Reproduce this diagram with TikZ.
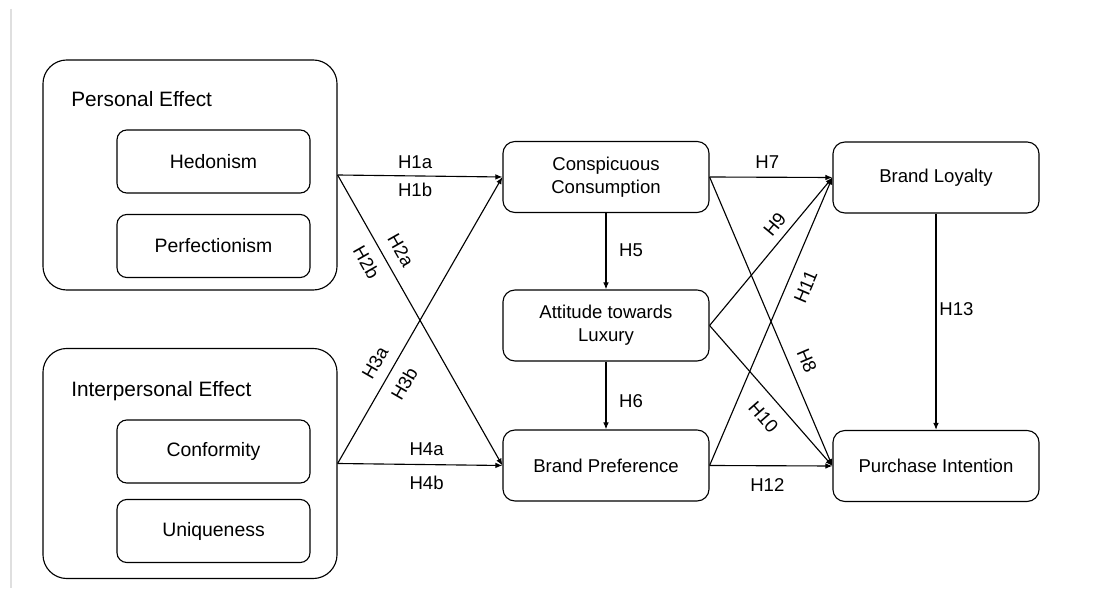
\documentclass[tikz,border=0pt]{standalone}
\usepackage{fontspec}
\setmainfont{Liberation Sans}
\usepackage{tikz}
\usetikzlibrary{arrows.meta, positioning}

\begin{document}
\begin{tikzpicture}[x=0.025cm, y=-0.025cm,
    every node/.style={font=\fontsize{13.2}{16.4}\selectfont},
    group/.style={draw, line width=0.8pt, rounded corners=17pt, minimum width=7.35cm, minimum height=5.75cm},
    grouptitle/.style={anchor=base west, inner sep=0pt, font=\fontsize{14.8}{17}\selectfont},
    inbox/.style={draw, line width=0.8pt, rounded corners=7pt, minimum width=4.825cm, minimum height=1.575cm, font=\fontsize{13.8}{16}\selectfont},
    box/.style={draw, line width=0.8pt, rounded corners=8.5pt, minimum width=5.15cm, minimum height=1.775cm, align=center},
    hyp/.style={line width=0.8pt, -{Latex[length=5pt, width=4pt]}},
    lab/.style={inner sep=5pt}]
    \useasboundingbox (0,0) rectangle (1107,590);
    % Page margin line
    \draw[gray!25, line width=0.8pt] (11,9) -- (11,588);
    % Antecedents
    \node[group] (pers) at (190,175) {};
    \node[grouptitle] (perst) at (71,107) {Personal Effect};
    \node[inbox] (hed) at (213.5,161.5) {Hedonism};
    \node[inbox] (perf) at (213.5,246) {Perfectionism};
    \node[group] (inter) at (190,463.5) {};
    \node[grouptitle] (intert) at (71,396.7) {Interpersonal Effect};
    \node[inbox] (conf) at (213.5,451.5) {Conformity};
    \node[inbox] (uniq) at (213.5,531) {Uniqueness};
    % Mediators and outcomes
    \node[box] (consp) at (606,177) {Conspicuous\\Consumption};
    \node[box] (att) at (606,325.5) {Attitude towards\\Luxury};
    \node[box] (bp) at (606,465.5) {Brand Preference};
    \node[box] (bl) at (936,177.5) {Brand Loyalty};
    \node[box] (pi) at (936,466) {Purchase Intention};
    % Hypotheses
    \draw[hyp] (pers.east) -- node[lab, pos=0.47, above] {H1a} node[lab, pos=0.47, below] {H1b} (consp.west);
    \draw[hyp] (pers.east) -- node[lab, pos=0.29, sloped, above=2.5pt] {H2a} node[lab, pos=0.27, sloped, below=2.5pt] {H2b} (bp.west);
    \draw[hyp] (inter.east) -- node[lab, pos=0.32, sloped, above=2.5pt] {H3a} node[lab, pos=0.31, sloped, below=2.5pt] {H3b} (consp.west);
    \draw[hyp] (inter.east) -- node[lab, pos=0.54, above=1pt] {H4a} node[lab, pos=0.54, below=3pt] {H4b} (bp.west);
    \draw[hyp] (consp.south) -- node[lab, pos=0.48, right=4pt] {H5} (att.north);
    \draw[hyp] (att.south) -- node[lab, pos=0.59, right=4pt] {H6} (bp.north);
    \draw[hyp] (consp.east) -- node[lab, pos=0.47, above=1pt] {H7} (bl.west);
    \draw[hyp] (consp.east) -- node[lab, pos=0.66, sloped, above=2.5pt] {H8} (pi.west);
    \draw[hyp] (att.east) -- node[lab, pos=0.62, sloped, above=0pt] {H9} (bl.west);
    \draw[hyp] (att.east) -- node[lab, pos=0.56, sloped, below=4pt] {H10} (pi.west);
    \draw[hyp] (bp.east) -- node[lab, pos=0.645, sloped, below=3pt] {H11} (bl.west);
    \draw[hyp] (bp.east) -- node[lab, pos=0.47, below=4pt] {H12} (pi.west);
    \draw[hyp] (bl.south) -- node[lab, pos=0.44, right, inner sep=2pt] {H13} (pi.north);
\end{tikzpicture}
\end{document}
